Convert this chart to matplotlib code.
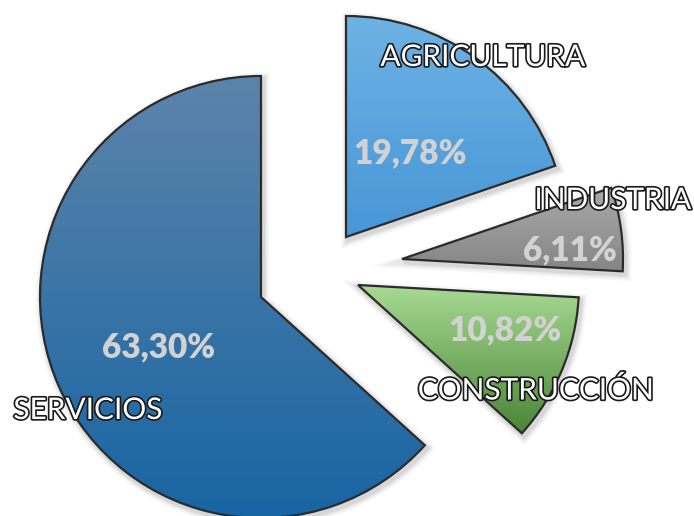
import numpy as np
import matplotlib
matplotlib.use("Agg")
import matplotlib.pyplot as plt
import matplotlib.patheffects as pe
from matplotlib.colors import LinearSegmentedColormap

# data
sectors = ["AGRICULTURA", "INDUSTRIA", "CONSTRUCCIÓN", "SERVICIOS"]
shares = [19.78, 6.11, 10.82, 63.30]
pct_labels = ["19,78%", "6,11%", "10,82%", "63,30%"]

# gradient top -> bottom for each slice
grads = [("#6eb2e4", "#4796d6"),
         ("#aaaaaa", "#858585"),
         ("#a8da94", "#4a8536"),
         ("#5c84aa", "#1865a3")]

# layout in pixel units (figure 694x516)
W, H = 694, 516
R = 221
centers = [(346, H - 237), (402, H - 259), (358, H - 285), (261, H - 297)]
name_pos = [(483, H - 57), (613, H - 200), (536, H - 390), (88, H - 410)]
pct_pos = [(410, H - 153), (570, H - 250), (505, H - 330), (159, H - 347)]

fig = plt.figure(figsize=(W / 100, H / 100), dpi=100)
ax = fig.add_axes([0, 0, 1, 1])

wedges, _ = ax.pie(shares, startangle=90, counterclock=False, radius=R,
                   center=centers[-1],
                   wedgeprops=dict(edgecolor="#2b2b2b", linewidth=1.6))

for w, c, (top, bot) in zip(wedges, centers, grads):
    w.set_center(c)
    # soft shadow
    for lw, a in [(9, 0.04), (6, 0.05), (3.5, 0.07)]:
        sh = matplotlib.patches.Wedge((c[0] + 2, c[1] - 3), w.r, w.theta1, w.theta2,
                                      facecolor="none", edgecolor="black",
                                      linewidth=lw, alpha=a, zorder=0.5)
        ax.add_patch(sh)
    w.set_facecolor("none")
    w.set_zorder(3)
    # vertical gradient clipped to the slice
    bb = w.get_path().get_extents(w.get_patch_transform())
    cmap = LinearSegmentedColormap.from_list("g", [bot, top])
    grad = np.linspace(0, 1, 256).reshape(-1, 1)
    im = ax.imshow(grad, cmap=cmap, origin="lower", aspect="auto",
                   extent=(bb.x0, bb.x1, bb.y0, bb.y1), zorder=2,
                   interpolation="bilinear")
    im.set_clip_path(w)

for name, (x, y) in zip(sectors, name_pos):
    ax.text(x, y, name, ha="center", va="center", fontsize=21.5,
            family="Lato", color="white", zorder=5,
            path_effects=[pe.withStroke(linewidth=2.4, foreground="#1a1a1a")])

for lab, (x, y) in zip(pct_labels, pct_pos):
    ax.text(x, y, lab, ha="center", va="center", fontsize=24,
            family="Lato", fontweight="heavy", color="#d2d2d2", zorder=5)

ax.set_xlim(0, W)
ax.set_ylim(0, H)
ax.set_aspect("equal")
ax.axis("off")

fig.savefig("out.png", dpi=100)
